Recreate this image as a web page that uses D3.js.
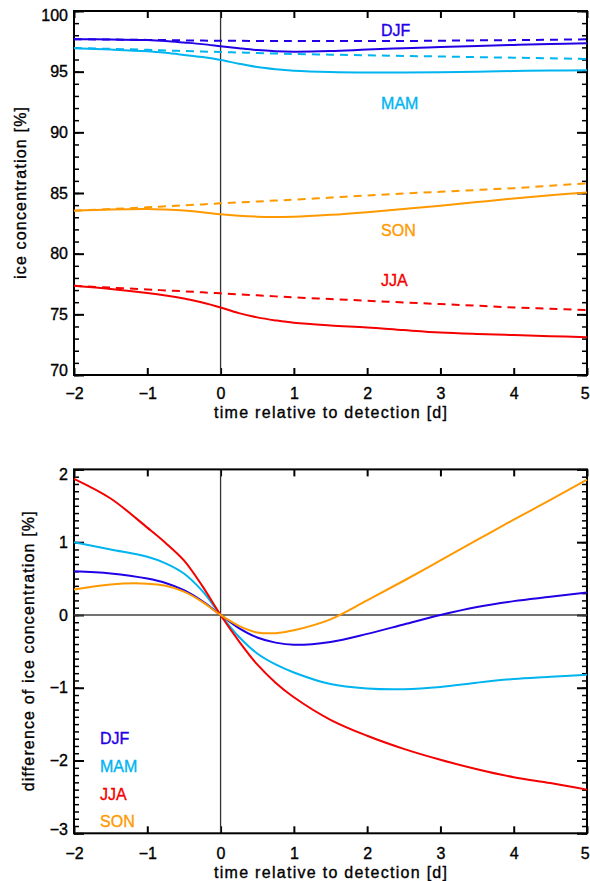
<!DOCTYPE html>
<html>
<head>
<meta charset="utf-8">
<script src="https://cdn.jsdelivr.net/npm/d3@7"></script>
<style>
  html, body { margin: 0; padding: 0; background: #fff; }
  svg { display: block; }
  text { font-family: "Liberation Sans", Arial, Helvetica, sans-serif; fill: #000; }
</style>
</head>
<body>
<svg id="chart" width="590" height="881"></svg>
<script>
// ---------------- data ----------------
const seasons = ["DJF", "MAM", "JJA", "SON"];
const seasonColors = ["#2200e6", "#00b4f0", "#f50000", "#ff9900"];
const days = [-2, -1.5, -1, -0.75, -0.5, -0.25, 0, 0.25, 0.5, 0.75, 1, 1.5, 2, 2.5, 3, 3.5, 4, 4.5, 5];

// top panel: ice concentration [%] (solid) and reference (dashed)
const djfIce    = [97.67, 97.66, 97.60, 97.52, 97.40, 97.27, 97.10, 96.93, 96.78, 96.69, 96.65, 96.70, 96.82, 96.93, 97.03, 97.12, 97.20, 97.27, 97.34];
const djfIceRef = [97.67, 97.65, 97.62, 97.60, 97.58, 97.56, 97.55, 97.54, 97.53, 97.52, 97.52, 97.52, 97.52, 97.53, 97.55, 97.58, 97.60, 97.63, 97.67];
const mamIce    = [96.92, 96.82, 96.68, 96.55, 96.38, 96.20, 95.96, 95.66, 95.38, 95.20, 95.08, 94.97, 94.93, 94.93, 94.96, 95.00, 95.05, 95.09, 95.11];
const mamIceRef = [96.95, 96.88, 96.80, 96.75, 96.70, 96.66, 96.62, 96.58, 96.53, 96.50, 96.46, 96.40, 96.35, 96.30, 96.25, 96.20, 96.15, 96.10, 96.05];
const jjaIce    = [77.35, 77.08, 76.75, 76.55, 76.30, 75.98, 75.57, 75.10, 74.75, 74.50, 74.30, 74.08, 73.92, 73.70, 73.50, 73.38, 73.29, 73.20, 73.12];
const jjaIceRef = [77.35, 77.20, 77.05, 76.97, 76.90, 76.81, 76.73, 76.65, 76.57, 76.48, 76.40, 76.26, 76.12, 75.98, 75.85, 75.71, 75.57, 75.46, 75.35];
const sonIce    = [83.54, 83.64, 83.68, 83.63, 83.55, 83.42, 83.24, 83.12, 83.05, 83.03, 83.04, 83.20, 83.42, 83.68, 83.95, 84.25, 84.55, 84.82, 85.05];
const sonIceRef = [83.54, 83.68, 83.82, 83.90, 83.98, 84.06, 84.15, 84.22, 84.30, 84.38, 84.45, 84.62, 84.80, 84.96, 85.10, 85.25, 85.40, 85.60, 85.80];

// bottom panel: difference of ice concentration [%]
const djfDiff = [0.60, 0.57, 0.50, 0.44, 0.34, 0.19, 0, -0.18, -0.31, -0.38, -0.41, -0.37, -0.26, -0.13, 0.00, 0.11, 0.19, 0.25, 0.31];
const mamDiff = [1.00, 0.90, 0.80, 0.71, 0.57, 0.33, 0, -0.30, -0.53, -0.68, -0.79, -0.95, -1.01, -1.02, -0.99, -0.93, -0.88, -0.85, -0.82];
const jjaDiff = [1.87, 1.60, 1.20, 0.99, 0.75, 0.40, 0, -0.36, -0.68, -0.93, -1.13, -1.44, -1.66, -1.84, -1.99, -2.12, -2.23, -2.31, -2.40];
const sonDiff = [0.35, 0.42, 0.43, 0.40, 0.32, 0.18, 0, -0.15, -0.24, -0.25, -0.21, -0.06, 0.20, 0.47, 0.75, 1.03, 1.31, 1.58, 1.86];

// axis ticks
const xTicks = [-2, -1, 0, 1, 2, 3, 4, 5];
const topYMajor = [70, 75, 80, 85, 90, 95, 100];
const topYMinor = d3.range(70, 100.01, 1);
const botYMajor = [-3, -2, -1, 0, 1, 2];
const botYMinor = d3.range(-30, 21, 1).map(v => v / 10);

const xTitle = "time relative to detection [d]";
const topYTitle = "ice concentration [%]";
const botYTitle = "difference of ice concentration [%]";

// top-panel label anchors (data coordinates)
const topLabelX = 2.19;
const topLabelY = [98.43, 92.42, 77.77, 81.89];
// bottom legend anchors (data coordinates)
const legendX = -1.645;
const legendY = [-1.70, -2.08, -2.47, -2.83];

// ---------------- layout ----------------
const svg = d3.select("#chart");
const L = 74, R = 587;
const x = d3.scaleLinear().domain([-2, 5]).range([L, R]);
const yTop = d3.scaleLinear().domain([70, 100]).range([375, 11]);
const yBot = d3.scaleLinear().domain([-3, 2]).range([833.3, 469.4]);
const FS = 16;

function thicken(sel, color) {
  sel.attr("stroke", color || "#000").attr("stroke-width", 0.35);
}

function panel(y, major, minor, yTitleText, yTitleX, xTitleY, xPad, yTitleLen) {
  const [y0, y1] = y.range(); // bottom, top
  const g = svg.append("g");

  // left axis: minor and major ticks (inward)
  g.append("g").attr("transform", `translate(${L},0)`)
    .call(d3.axisLeft(y).tickValues(minor).tickSize(-5).tickFormat(""))
    .call(a => { a.select(".domain").remove(); a.selectAll("line").attr("stroke-width", 1.5); });
  const la = g.append("g").attr("transform", `translate(${L},0)`)
    .call(d3.axisLeft(y).tickValues(major).tickSize(-10).tickPadding(6).tickFormat(d3.format("d")))
    .call(a => { a.select(".domain").remove(); a.selectAll("line").attr("stroke-width", 2); });
  const [dmin, dmax] = y.domain();
  la.selectAll("text")
    .attr("font-size", FS).attr("font-family", null)
    .attr("dy", d => d === dmax ? "0.62em" : d === dmin ? "0.06em" : "0.32em")
    .call(thicken);

  // right axis (mirror, no labels)
  g.append("g").attr("transform", `translate(${R},0)`)
    .call(d3.axisRight(y).tickValues(minor).tickSize(-5).tickFormat(""))
    .call(a => { a.select(".domain").remove(); a.selectAll("line").attr("stroke-width", 1.5); });
  g.append("g").attr("transform", `translate(${R},0)`)
    .call(d3.axisRight(y).tickValues(major).tickSize(-10).tickFormat(""))
    .call(a => { a.select(".domain").remove(); a.selectAll("line").attr("stroke-width", 2); });

  // bottom axis with labels
  const ba = g.append("g").attr("transform", `translate(0,${y0})`)
    .call(d3.axisBottom(x).tickValues(xTicks).tickSize(-7).tickPadding(xPad).tickFormat(d3.format("d")))
    .call(a => { a.select(".domain").remove(); a.selectAll("line").attr("stroke-width", 2); });
  ba.selectAll("text").attr("font-size", FS).attr("font-family", null)
    .attr("dx", d => d === 5 ? "-0.14em" : null)
    .call(thicken);

  // top axis, no labels
  g.append("g").attr("transform", `translate(0,${y1})`)
    .call(d3.axisTop(x).tickValues(xTicks).tickSize(-7).tickFormat(""))
    .call(a => { a.select(".domain").remove(); a.selectAll("line").attr("stroke-width", 2); });

  // vertical line at t = 0
  g.append("line")
    .attr("x1", x(0)).attr("x2", x(0)).attr("y1", y1).attr("y2", y0)
    .attr("stroke", "#333").attr("stroke-width", 1.3);

  // frame
  g.append("rect")
    .attr("x", L).attr("y", y1).attr("width", R - L).attr("height", y0 - y1)
    .attr("fill", "none").attr("stroke", "#000").attr("stroke-width", 2);

  // titles
  g.append("text")
    .attr("x", (L + R) / 2).attr("y", xTitleY)
    .attr("text-anchor", "middle").attr("font-size", FS)
    .attr("textLength", 233).attr("lengthAdjust", "spacing")
    .text(xTitle).call(thicken);
  g.append("text")
    .attr("transform", `translate(${yTitleX},${(y0 + y1) / 2}) rotate(-90)`)
    .attr("text-anchor", "middle").attr("font-size", FS)
    .attr("textLength", yTitleLen).attr("lengthAdjust", "spacing")
    .text(yTitleText).call(thicken);
  return g;
}

panel(yTop, topYMajor, topYMinor, topYTitle, 25.5, 418, 12.6, 172);
panel(yBot, botYMajor, botYMinor, botYTitle, 33.5, 878, 14.2, 280);

// zero line in bottom panel
svg.append("line")
  .attr("x1", L).attr("x2", R).attr("y1", yBot(0)).attr("y2", yBot(0))
  .attr("stroke", "#444").attr("stroke-width", 1.6);

// ---------------- curves ----------------
const curve = d3.curveCatmullRom.alpha(0.5);
const lineTop = d3.line().x((d, i) => x(days[i])).y(d => yTop(d)).curve(curve);
const lineBot = d3.line().x((d, i) => x(days[i])).y(d => yBot(d)).curve(curve);

const topSolid = [djfIce, mamIce, jjaIce, sonIce];
const topDashed = [djfIceRef, mamIceRef, jjaIceRef, sonIceRef];
const botSolid = [djfDiff, mamDiff, jjaDiff, sonDiff];

topDashed.forEach((s, i) => {
  svg.append("path").attr("d", lineTop(s)).attr("fill", "none")
    .attr("stroke", seasonColors[i]).attr("stroke-width", 2).attr("stroke-dasharray", "8,6");
});
topSolid.forEach((s, i) => {
  svg.append("path").attr("d", lineTop(s)).attr("fill", "none")
    .attr("stroke", seasonColors[i]).attr("stroke-width", 2);
});
botSolid.forEach((s, i) => {
  svg.append("path").attr("d", lineBot(s)).attr("fill", "none")
    .attr("stroke", seasonColors[i]).attr("stroke-width", 2);
});

// season labels
seasons.forEach((s, i) => {
  svg.append("text")
    .attr("x", x(topLabelX)).attr("y", yTop(topLabelY[i])).attr("dy", "0.36em")
    .attr("font-size", FS).style("fill", seasonColors[i]).text(s)
    .call(thicken, seasonColors[i]);
  svg.append("text")
    .attr("x", x(legendX)).attr("y", yBot(legendY[i])).attr("dy", "0.36em")
    .attr("font-size", FS).style("fill", seasonColors[i]).text(s)
    .call(thicken, seasonColors[i]);
});
</script>
</body>
</html>
